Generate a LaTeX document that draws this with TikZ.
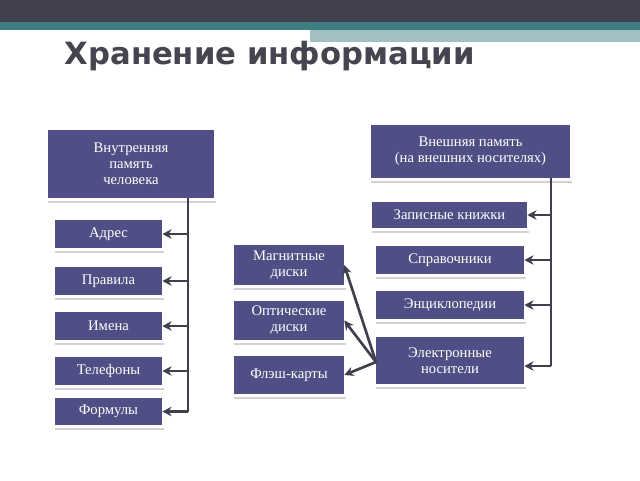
\documentclass[tikz,border=0pt]{standalone}
\usepackage{fontspec}
\setmainfont{Liberation Serif}
\newfontfamily\titlefont{DejaVu Sans}
\usetikzlibrary{arrows.meta}
\definecolor{boxc}{HTML}{4F4F85}
\definecolor{barc}{HTML}{41414F}
\definecolor{tealc}{HTML}{3F7E80}
\definecolor{ltealc}{HTML}{A2BFC1}
\definecolor{linec}{HTML}{3F3F4F}
\definecolor{titlec}{HTML}{45454F}
\tikzset{
  bx/.style={fill=boxc,text=white,align=center,inner sep=0pt,font=\fontsize{11}{12}\selectfont},
  con/.style={linec,line width=2pt},
  arr/.style={con,-{Stealth[length=7pt,width=7pt]}}
}
\newcommand{\mybox}[6]{% name x1 y1 x2 y2 text
  \fill[gray!35] (#2,#5+3) rectangle (#4+2,#5+4.5);
  \node[bx,minimum width=(#4-#2)*0.75pt,minimum height=(#5-#3)*0.75pt] (#1) at ({(#2+#4)/2},{(#3+#5)/2}) {#6};}
\begin{document}
\begin{tikzpicture}[x=0.75pt,y=-0.75pt]
\useasboundingbox (0,0) rectangle (640,480);
\fill[white] (0,0) rectangle (640,480);
\fill[barc] (0,0) rectangle (640,22);
\fill[tealc] (0,22) rectangle (640,30);
\fill[ltealc] (310,30) rectangle (640,42);
\node[text=titlec,font=\titlefont\bfseries\fontsize{23}{26}\selectfont,anchor=west] (title) at (60,56) {Хранение информации};

\mybox{vn}{48}{130}{214}{198}{Внутренняя\\память\\человека}
\mybox{ext}{371}{125}{570}{178}{Внешняя память\\(на внешних носителях)}
\mybox{zk}{372}{202}{527}{228}{Записные книжки}
\mybox{sp}{376}{246}{524}{274}{Справочники}
\mybox{en}{376}{291}{524}{319}{Энциклопедии}
\mybox{el}{376}{337}{524}{384}{Электронные\\носители}
\mybox{mg}{234}{245}{344}{285}{Магнитные\\диски}
\mybox{op}{234}{301}{344}{340}{Оптические\\диски}
\mybox{fl}{234}{356}{344}{394}{Флэш-карты}
\mybox{ad}{55}{220}{162}{248}{Адрес}
\mybox{pr}{55}{267}{162}{295}{Правила}
\mybox{im}{55}{312}{162}{340}{Имена}
\mybox{tel}{55}{357}{162}{385}{Телефоны}
\mybox{fo}{55}{398}{162}{425}{Формулы}

\coordinate (lt) at (188,198);
\coordinate (lb) at (188,411.5);
\draw[con] (lt) -- (lb);
\foreach \n in {ad,pr,im,tel}{\draw[arr] (lt |- \n.east) -- (\n.east);}
\draw[arr] (lb) -- (fo.east |- lb);

\coordinate (rt) at (551,178);
\coordinate (rb) at (551,366);
\draw[con] (rt) -- (rb);
\foreach \n in {zk,sp,en}{\draw[arr] (rt |- \n.east) -- (\n.east);}
\draw[arr] (rb) -- (el.east |- rb);

\coordinate (src) at (376,362);
\draw[arr] (src) -- (mg.east);
\draw[arr] (src) -- (op.east);
\draw[arr] (src) -- (fl.east);
\end{tikzpicture}
\end{document}
